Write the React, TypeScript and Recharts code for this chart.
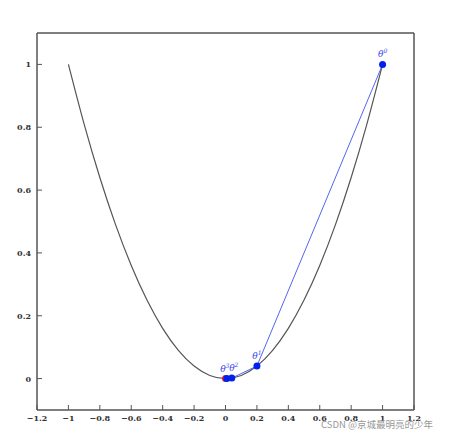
import { ComposedChart, Line, XAxis, YAxis, ReferenceDot } from 'recharts';

// parabola samples
const curveX = [-1, -0.9, -0.8, -0.7, -0.6, -0.5, -0.4, -0.3, -0.2, -0.1, 0, 0.1, 0.2, 0.3, 0.4, 0.5, 0.6, 0.7, 0.8, 0.9, 1];
const curveY = [1, 0.81, 0.64, 0.49, 0.36, 0.25, 0.16, 0.09, 0.04, 0.01, 0, 0.01, 0.04, 0.09, 0.16, 0.25, 0.36, 0.49, 0.64, 0.81, 1];

// descent iterates
const stepX = [1, 0.2, 0.04, 0.008];
const stepY = [1, 0.04, 0.0016, 0.0001];
const stepLabels = ['0', '1', '2', '3'];

const minimum = { x: 0, y: 0 };

const xTicks = [-1.2, -1, -0.8, -0.6, -0.4, -0.2, 0, 0.2, 0.4, 0.6, 0.8, 1, 1.2];
const yTicks = [0, 0.2, 0.4, 0.6, 0.8, 1];

const curveData = curveX.map((x, i) => ({ x, y: curveY[i] }));
const stepData = stepX.map((x, i) => ({ x, y: stepY[i], label: stepLabels[i] }));

const AXIS = '#555';
const FONT = '"DejaVu Serif", "Liberation Serif", serif';

const fmt = (v: number) => {
  const s = String(Math.round(v * 10) / 10);
  return s.replace('-', '\u2212');
};

function BottomTick({ x, y, payload }: any) {
  return (
    <g>
      <line x1={x} y1={y} x2={x} y2={y - 5} stroke={AXIS} strokeWidth={1} />
      <text x={x} y={y + 11} textAnchor="middle" fontFamily={FONT} fontSize={8} fontWeight="bold" fill="#333">
        {fmt(payload.value)}
      </text>
    </g>
  );
}

function TopTick({ x, y }: any) {
  return <line x1={x} y1={y} x2={x} y2={y + 5} stroke={AXIS} strokeWidth={1} />;
}

function LeftTick({ x, y, payload }: any) {
  return (
    <g>
      <line x1={x} y1={y} x2={x + 5} y2={y} stroke={AXIS} strokeWidth={1} />
      <text x={x - 6} y={y + 3} textAnchor="end" fontFamily={FONT} fontSize={8} fontWeight="bold" fill="#333">
        {fmt(payload.value)}
      </text>
    </g>
  );
}

function RightTick({ x, y }: any) {
  return <line x1={x} y1={y} x2={x - 5} y2={y} stroke={AXIS} strokeWidth={1} />;
}

function StepLabel({ x, y, index }: any) {
  const sup = stepLabels[index];
  const dx = index === 3 ? -2 : index === 2 ? 2 : 0;
  return (
    <text x={x + dx} y={y - 7} textAnchor="middle" fontFamily={FONT} fontStyle="italic" fontSize={9} fill="#3344ee">
      θ
      <tspan fontSize={6} dy={-4}>
        {sup}
      </tspan>
    </text>
  );
}

export default function App() {
  return (
    <div style={{ position: 'absolute', left: 0, top: 0, width: 452, height: 438, background: '#fff' }}>
      <ComposedChart width={452} height={438} margin={{ top: 0, right: 0, bottom: 0, left: 0 }}>
        <XAxis
          type="number"
          dataKey="x"
          domain={[-1.2, 1.2]}
          ticks={xTicks}
          height={28}
          tickSize={0}
          tickMargin={0}
          tickLine={false}
          axisLine={{ stroke: AXIS, strokeWidth: 1.5 }}
          tick={<BottomTick />}
          allowDataOverflow
        />
        <XAxis
          xAxisId="top"
          orientation="top"
          type="number"
          dataKey="x"
          domain={[-1.2, 1.2]}
          ticks={xTicks}
          height={33}
          tickSize={0}
          tickMargin={0}
          tickLine={false}
          axisLine={{ stroke: AXIS, strokeWidth: 1.5 }}
          tick={<TopTick />}
        />
        <YAxis
          type="number"
          domain={[-0.1, 1.1]}
          ticks={yTicks}
          width={37}
          tickSize={0}
          tickMargin={0}
          tickLine={false}
          axisLine={{ stroke: AXIS, strokeWidth: 1.5 }}
          tick={<LeftTick />}
          allowDataOverflow
        />
        <YAxis
          yAxisId="right"
          orientation="right"
          type="number"
          domain={[-0.1, 1.1]}
          ticks={yTicks}
          width={38}
          tickSize={0}
          tickMargin={0}
          tickLine={false}
          axisLine={{ stroke: AXIS, strokeWidth: 1.5 }}
          tick={<RightTick />}
        />
        <Line
          data={curveData}
          dataKey="y"
          type="monotone"
          stroke="#555"
          strokeWidth={1.2}
          dot={false}
          isAnimationActive={false}
        />
        <Line
          data={stepData}
          dataKey="y"
          type="linear"
          stroke="#5566ee"
          strokeWidth={1}
          dot={false}
          isAnimationActive={false}
        />
        <ReferenceDot x={minimum.x} y={minimum.y} r={3.5} fill="#ee2222" stroke="none" />
        <Line
          data={stepData}
          dataKey="y"
          type="linear"
          stroke="none"
          dot={{ r: 3.5, fill: '#0022ee', stroke: 'none' }}
          label={<StepLabel />}
          isAnimationActive={false}
        />
      </ComposedChart>
      <div
        style={{
          position: 'absolute',
          left: 321,
          top: 417,
          fontFamily: '"Noto Sans CJK SC", sans-serif',
          fontSize: 9.5,
          color: '#999',
          whiteSpace: 'nowrap',
        }}
      >
        CSDN @京城最明亮的少年
      </div>
    </div>
  );
}
